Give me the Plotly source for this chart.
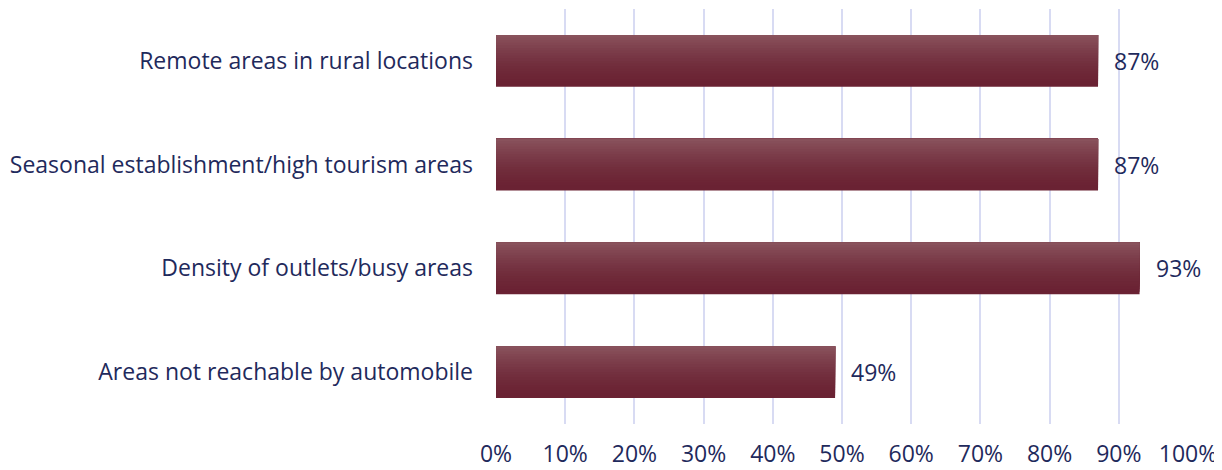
import plotly.graph_objects as go

categories = [
    "Areas not reachable by automobile",
    "Density of outlets/busy areas",
    "Seasonal establishment/high tourism areas",
    "Remote areas in rural locations",
]
values = [49, 93, 87, 87]
x_ticks = list(range(0, 101, 10))
x_tick_labels = [f"{t}%" for t in x_ticks]

TEXT = "#1f2a5c"
FONT = "Open Sans"
FS = 23
top_rgb = (0x89, 0x52, 0x5c)
bot_rgb = (0x6a, 0x22, 0x33)

fig = go.Figure()
n = 20
bar_w = 0.5
strip = bar_w / n
for i in range(n):
    t = i / (n - 1)
    # i=0 is the bottom strip; each strip extends to the top so no seams show
    c = tuple(round(bot_rgb[k] + (top_rgb[k] - bot_rgb[k]) * (t ** 1.6)) for k in range(3))
    fig.add_trace(go.Bar(
        y=categories, x=values, orientation="h",
        width=bar_w - i * strip, offset=-bar_w / 2 + i * strip,
        marker=dict(color=f"rgb{c}", line=dict(width=0)),
        showlegend=False, hoverinfo="skip",
    ))

for cat, v in zip(categories, values):
    fig.add_annotation(
        x=v, y=cat, text=f"{v}%", showarrow=False,
        xanchor="left", yanchor="middle", xshift=14,
        font=dict(family=FONT, size=FS, color=TEXT),
    )

# the page body has an 8px margin, so the figure is sized to fit the window
fig.update_layout(
    width=1214, height=462,
    margin=dict(l=488, r=34, t=1, b=46),
    paper_bgcolor="white", plot_bgcolor="white",
    barmode="overlay", bargap=0.5,
    font=dict(family=FONT, size=FS, color=TEXT),
    xaxis=dict(
        range=[0, 100], tickvals=x_ticks, ticktext=x_tick_labels,
        showgrid=True, gridcolor="#d8dbf3", gridwidth=2,
        zeroline=False, showline=False, ticks="", ticklabelstandoff=14,
        tickfont=dict(family=FONT, size=FS, color=TEXT),
        automargin=False,
    ),
    yaxis=dict(
        categoryorder="array", categoryarray=categories,
        showgrid=False, zeroline=False, showline=False, ticks="",
        ticklabelstandoff=22,
        tickfont=dict(family=FONT, size=FS, color=TEXT),
        automargin=False,
    ),
)

fig.write_html("out.html")
